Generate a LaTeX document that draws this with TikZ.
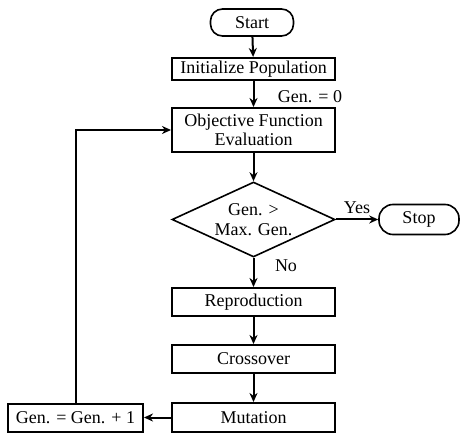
\documentclass[tikz,border=0pt]{standalone}
\usepackage{fontspec}
\setmainfont{Liberation Serif}
\usetikzlibrary{shapes.geometric,arrows.meta}
\begin{document}
\begin{tikzpicture}[x=1pt,y=-1pt,
  every node/.style={font=\fontsize{18}{19.5}\selectfont, align=center, inner sep=0pt},
  box/.style={draw, line width=2pt, rectangle, minimum width=163pt},
  pill/.style={draw, line width=1.6pt, rounded corners=12pt, minimum height=27pt},
  decision/.style={draw, line width=1.6pt, diamond, aspect=2.17, minimum width=163pt, minimum height=75pt},
  conn/.style={line width=2pt, -{Stealth[length=9pt,width=8pt]}},
  lbl/.style={font=\fontsize{18}{19.5}\selectfont}
]
\useasboundingbox (0,0) rectangle (461,433);
\node[pill, minimum width=83pt] (start) at (252,22.5) {Start};
\node[box, minimum height=22pt] (init) at (253.5,69) {Initialize Population};
\node[box, minimum height=44pt] (obj) at (253.5,130) {Objective Function\\Evaluation};
\node[lbl] (g0) at (310,97) {Gen. = 0};
\node[decision] (dec) at (253.5,219.5) {Gen. >\\Max. Gen.};
\node[pill, minimum width=80pt, minimum height=30pt, rounded corners=14pt] (stop) at (419,219.5) {Stop};
\node[lbl, anchor=south] (yes) at (357,214) {Yes};
\node[lbl] (no) at (286,266) {No};
\node[box, minimum height=28pt] (rep) at (253.5,302) {Reproduction};
\node[box, minimum height=28pt] (cross) at (253.5,359) {Crossover};
\node[box, minimum height=29pt] (mut) at (253.5,417.5) {Mutation};
\node[box, minimum width=135pt, minimum height=28pt] (inc) at (75.5,417.5) {Gen. = Gen. + 1};
\coordinate (corner) at (76,130);
\draw[conn] (start) -- (init);
\draw[conn] (init) -- (obj);
\draw[conn] (obj) -- (dec);
\draw[conn] (dec.east) -- (stop.west);
\draw[conn] (dec.south) -- (rep);
\draw[conn] (rep) -- (cross);
\draw[conn] (cross) -- (mut);
\draw[conn] (mut.west) -- (inc.east);
\draw[conn] (inc.north -| corner) -- (corner) -- (obj.west);
\end{tikzpicture}
\end{document}
